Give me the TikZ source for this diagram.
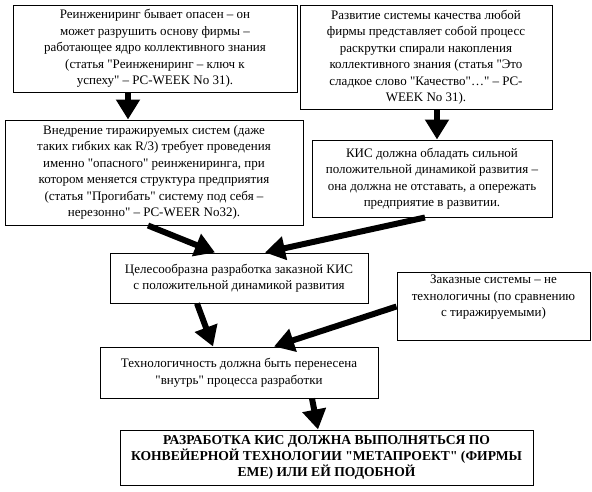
\documentclass[tikz,border=0pt]{standalone}
\usepackage{fontspec}
\setmainfont{Liberation Serif}[Ligatures=TeXOff]
\usetikzlibrary{arrows.meta}
\tikzset{
  box/.style={draw=black,line width=1pt,fill=white,inner sep=2pt,align=center,font=\fontsize{13}{16.5}\selectfont},
  boldbox/.style={box,font=\fontsize{13.6}{16}\selectfont\bfseries},
  fatflow/.style={-{Triangle[length=20pt,width=23pt]},draw=black,line width=6pt}}
\begin{document}
\begin{tikzpicture}[x=1pt,y=-1pt]
  \useasboundingbox (0,0) rectangle (592,491);
  \node[box,minimum width=284pt,minimum height=87pt] (reeng) at (155,48.5) {Реинжениринг бывает опасен – он\\может разрушить основу фирмы –\\работающее ядро коллективного знания\\(статья "Реинжениринг – ключ к\\успеху" – PC-WEEK No 31).};
  \node[box,minimum width=252pt,minimum height=104pt] (razv) at (426,57) {Развитие системы качества любой\\фирмы представляет собой процесс\\раскрутки спирали накопления\\коллективного знания (статья "Это\\сладкое слово "Качество"…" – PC-\\WEEK No 31).};
  \node[box,minimum width=298pt,minimum height=105pt] (vnedr) at (154,172.5) {Внедрение тиражируемых систем (даже\\таких гибких как R/3) требует проведения\\именно "опасного" реинжениринга, при\\котором меняется структура предприятия\\(статья "Прогибать" систему под себя –\\нерезонно" – PC-WEER No32).};
  \node[box,minimum width=240pt,minimum height=77pt] (kis) at (432,178.5) {КИС должна обладать сильной\\положительной динамикой развития –\\она должна не отставать, а опережать\\предприятие в развитии.};
  \node[box,minimum width=258pt,minimum height=50pt] (celes) at (239,278) {Целесообразна разработка заказной КИС\\с положительной динамикой развития};
  \node[box,minimum width=193pt,minimum height=67pt] (zakaz) at (493.5,306.5) {Заказные системы – не\\технологичны (по сравнению\\с тиражируемыми)\\ \strut};
  \node[box,minimum width=278pt,minimum height=51pt] (tehn) at (239,372.5) {Технологичность должна быть перенесена\\"внутрь" процесса разработки};
  \node[boldbox,minimum width=413pt,minimum height=55pt] (final) at (326.5,457.5) {РАЗРАБОТКА КИС ДОЛЖНА ВЫПОЛНЯТЬСЯ ПО\\КОНВЕЙЕРНОЙ ТЕХНОЛОГИИ "МЕТАПРОЕКТ" (ФИРМЫ\\ЕМЕ) ИЛИ ЕЙ ПОДОБНОЙ};
  \draw[fatflow] ([xshift=-27pt]reeng.south) -- ([xshift=-26pt]vnedr.north);
  \draw[fatflow] ([xshift=11pt]razv.south) -- ([xshift=5pt]kis.north);
  \draw[fatflow] ([xshift=-6pt]vnedr.south) -- ([xshift=-24pt]celes.north);
  \draw[fatflow] ([xshift=-7pt]kis.south) -- ([xshift=26pt]celes.north);
  \draw[fatflow] ([xshift=-42pt]celes.south) -- ([xshift=-26pt]tehn.north);
  \draw[fatflow] (zakaz.west) -- ([xshift=35pt]tehn.north);
  \draw[fatflow] ([xshift=73pt]tehn.south) -- ([xshift=-8.5pt]final.north);
\end{tikzpicture}
\end{document}
